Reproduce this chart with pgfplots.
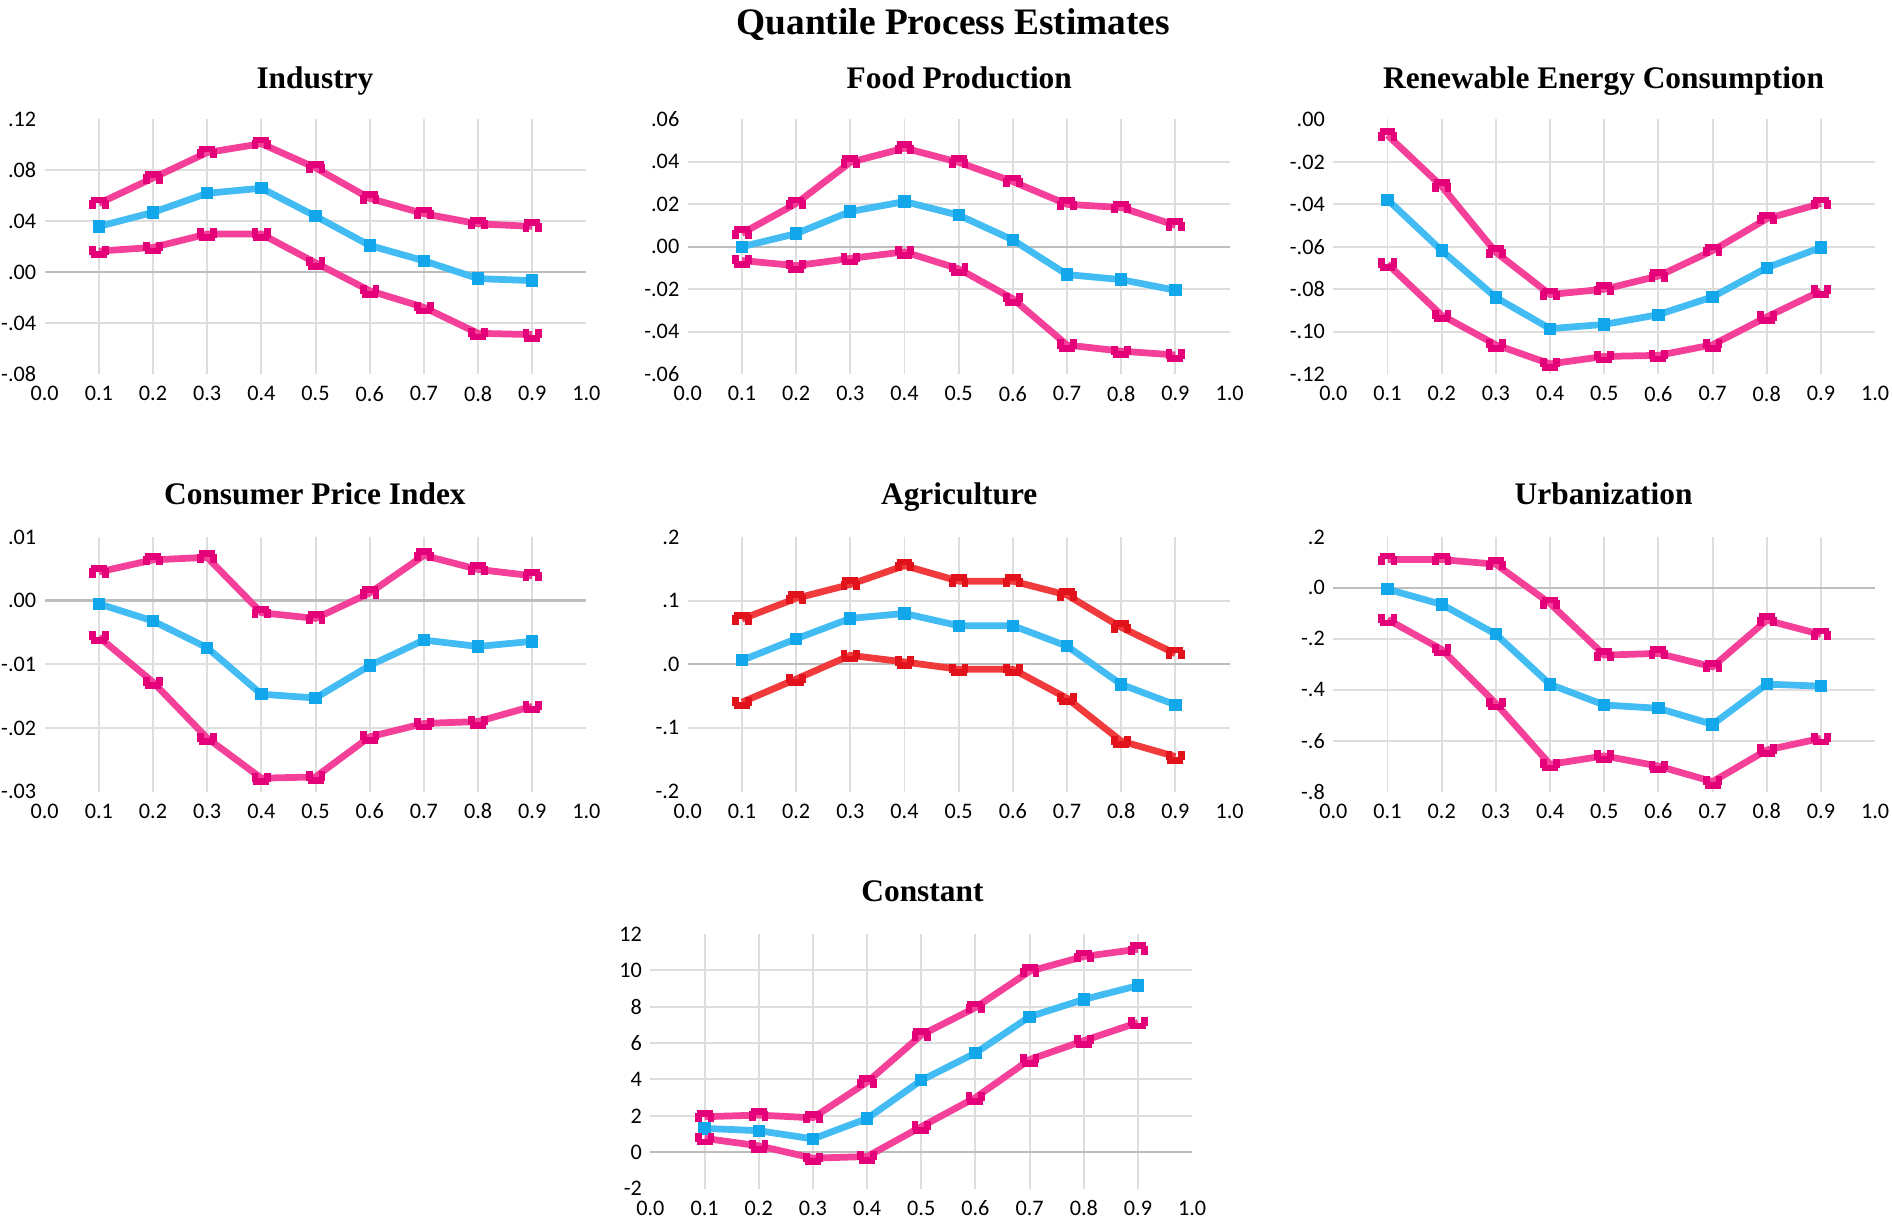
\documentclass[border=0pt]{standalone}
\usepackage{fontspec}
\setmainfont{Liberation Serif}
\newfontfamily\calibri{Carlito}
\usepackage{pgfplots}
\pgfplotsset{compat=1.18}

\definecolor{pinkc}{RGB}{244,64,152}
\definecolor{pinkm}{RGB}{228,0,120}
\definecolor{bluec}{RGB}{66,188,242}
\definecolor{bluem}{RGB}{18,166,234}
\definecolor{redc}{RGB}{240,58,60}
\definecolor{redm}{RGB}{226,18,28}
\definecolor{gridc}{RGB}{222,222,222}
\definecolor{zeroc}{RGB}{190,190,190}

% band markers: cap opening downwards (upper band) / upwards (lower band)
\pgfdeclareplotmark{capup}{%
  \pgfpathmoveto{\pgfqpoint{-0.8\pgfplotmarksize}{-0.7\pgfplotmarksize}}%
  \pgfpathlineto{\pgfqpoint{-0.8\pgfplotmarksize}{0.45\pgfplotmarksize}}%
  \pgfpathmoveto{\pgfqpoint{-\pgfplotmarksize}{0.45\pgfplotmarksize}}%
  \pgfpathlineto{\pgfqpoint{\pgfplotmarksize}{0.45\pgfplotmarksize}}%
  \pgfpathmoveto{\pgfqpoint{0.8\pgfplotmarksize}{0.45\pgfplotmarksize}}%
  \pgfpathlineto{\pgfqpoint{0.8\pgfplotmarksize}{-0.7\pgfplotmarksize}}%
  \pgfusepathqstroke}
\pgfdeclareplotmark{capdn}{%
  \pgfpathmoveto{\pgfqpoint{-0.8\pgfplotmarksize}{0.7\pgfplotmarksize}}%
  \pgfpathlineto{\pgfqpoint{-0.8\pgfplotmarksize}{-0.45\pgfplotmarksize}}%
  \pgfpathmoveto{\pgfqpoint{-\pgfplotmarksize}{-0.45\pgfplotmarksize}}%
  \pgfpathlineto{\pgfqpoint{\pgfplotmarksize}{-0.45\pgfplotmarksize}}%
  \pgfpathmoveto{\pgfqpoint{0.8\pgfplotmarksize}{-0.45\pgfplotmarksize}}%
  \pgfpathlineto{\pgfqpoint{0.8\pgfplotmarksize}{0.7\pgfplotmarksize}}%
  \pgfusepathqstroke}

\pgfplotsset{
  qp/.style={
    scale only axis, width=224.5pt, height=105.5pt, anchor=south west,
    xmin=0, xmax=1, clip=false, scaled y ticks=false,
    xtick={0,0.1,0.2,0.3,0.4,0.5,0.6,0.7,0.8,0.9,1},
    xticklabels={0.0,0.1,0.2,0.3,0.4,0.5,0.6,0.7,0.8,0.9,1.0},
    minor xtick={0.1,0.2,0.3,0.4,0.5,0.6,0.7,0.8,0.9},
    xminorgrids=true, yminorgrids=true,
    minor grid style={gridc, line width=0.8pt},
    axis line style={draw=none},
    major tick length=0pt, minor tick length=0pt,
    tick label style={font=\calibri\fontsize{9.2}{10}\selectfont},
    yticklabel style={anchor=east},
    xticklabel style={anchor=north, yshift=-1.5pt},
  },
  zl/.style={extra y ticks={0}, extra y tick labels={},
    extra y tick style={grid=major, major grid style={zeroc, line width=1pt}}},
  hi/.style={draw=#1, line width=2.8pt, mark=capup, mark size=3.3pt,
    mark options={solid, line width=2pt}},
  lo/.style={draw=#1, line width=2.8pt, mark=capdn, mark size=3.3pt,
    mark options={solid, line width=2pt}},
  mid/.style={draw=bluec, line width=2.8pt, mark=square*, mark size=2.3pt,
    mark options={draw=bluem, fill=bluem, line width=0.5pt}},
}

\begin{document}
\begin{tikzpicture}
\useasboundingbox (0,0) rectangle (784pt,-506pt);

% ---- Industry
\begin{axis}[qp, zl, at={(18.5pt,-155pt)}, ymin=-0.08, ymax=0.12,
  ytick={-0.08,-0.04,0,0.04,0.08,0.12}, yticklabels={-.08,-.04,.00,.04,.08,.12},
  minor ytick={-0.04,0.04,0.08}]
\addplot[hi=pinkc, mark options={pinkm}] coordinates {
  (0.1,0.054) (0.2,0.074) (0.3,0.094) (0.4,0.101) (0.5,0.082)
  (0.6,0.058) (0.7,0.046) (0.8,0.038) (0.9,0.036)};
\addplot[mid] coordinates {
  (0.1,0.036) (0.2,0.047) (0.3,0.062) (0.4,0.066) (0.5,0.044)
  (0.6,0.021) (0.7,0.009) (0.8,-0.005) (0.9,-0.0066)};
\addplot[lo=pinkc, mark options={pinkm}] coordinates {
  (0.1,0.0166) (0.2,0.0195) (0.3,0.030) (0.4,0.030) (0.5,0.0074)
  (0.6,-0.0145) (0.7,-0.0276) (0.8,-0.048) (0.9,-0.049)};
\end{axis}

% ---- Food Production
\begin{axis}[qp, zl, at={(285pt,-155pt)}, ymin=-0.06, ymax=0.06,
  ytick={-0.06,-0.04,-0.02,0,0.02,0.04,0.06}, yticklabels={-.06,-.04,-.02,.00,.02,.04,.06},
  minor ytick={-0.04,-0.02,0.02,0.04}]
\addplot[hi=pinkc, mark options={pinkm}] coordinates {
  (0.1,0.0063) (0.2,0.0204) (0.3,0.0398) (0.4,0.0465) (0.5,0.0398)
  (0.6,0.0307) (0.7,0.020) (0.8,0.0185) (0.9,0.0101)};
\addplot[mid] coordinates {
  (0.1,0.0) (0.2,0.0062) (0.3,0.0166) (0.4,0.0213) (0.5,0.0149)
  (0.6,0.0032) (0.7,-0.0131) (0.8,-0.0155) (0.9,-0.0205)};
\addplot[lo=pinkc, mark options={pinkm}] coordinates {
  (0.1,-0.0065) (0.2,-0.0089) (0.3,-0.0055) (0.4,-0.0024) (0.5,-0.0104)
  (0.6,-0.0245) (0.7,-0.0463) (0.8,-0.0492) (0.9,-0.051)};
\end{axis}

% ---- Renewable Energy Consumption
\begin{axis}[qp, at={(552.5pt,-155pt)}, ymin=-0.12, ymax=0,
  ytick={-0.12,-0.10,-0.08,-0.06,-0.04,-0.02,0}, yticklabels={-.12,-.10,-.08,-.06,-.04,-.02,.00},
  minor ytick={-0.10,-0.08,-0.06,-0.04,-0.02}]
\addplot[hi=pinkc, mark options={pinkm}] coordinates {
  (0.1,-0.0074) (0.2,-0.0315) (0.3,-0.0626) (0.4,-0.0825) (0.5,-0.080)
  (0.6,-0.0738) (0.7,-0.0618) (0.8,-0.0468) (0.9,-0.0396)};
\addplot[mid] coordinates {
  (0.1,-0.0378) (0.2,-0.0618) (0.3,-0.0839) (0.4,-0.0986) (0.5,-0.0966)
  (0.6,-0.092) (0.7,-0.0836) (0.8,-0.0699) (0.9,-0.0603)};
\addplot[lo=pinkc, mark options={pinkm}] coordinates {
  (0.1,-0.0681) (0.2,-0.0923) (0.3,-0.1062) (0.4,-0.1152) (0.5,-0.1117)
  (0.6,-0.1112) (0.7,-0.1062) (0.8,-0.0931) (0.9,-0.0808)};
\end{axis}

% ---- Consumer Price Index
\begin{axis}[qp, zl, at={(18.5pt,-328pt)}, ymin=-0.03, ymax=0.01,
  ytick={-0.03,-0.02,-0.01,0,0.01}, yticklabels={-.03,-.02,-.01,.00,.01},
  minor ytick={-0.02,-0.01}]
\addplot[hi=pinkc, mark options={pinkm}] coordinates {
  (0.1,0.0045) (0.2,0.0064) (0.3,0.0068) (0.4,-0.0019) (0.5,-0.0028)
  (0.6,0.0012) (0.7,0.0071) (0.8,0.0049) (0.9,0.0039)};
\addplot[mid] coordinates {
  (0.1,-0.0005) (0.2,-0.0032) (0.3,-0.0074) (0.4,-0.0147) (0.5,-0.0153)
  (0.6,-0.0102) (0.7,-0.0062) (0.8,-0.0072) (0.9,-0.0064)};
\addplot[lo=pinkc, mark options={pinkm}] coordinates {
  (0.1,-0.0057) (0.2,-0.0128) (0.3,-0.0216) (0.4,-0.0279) (0.5,-0.0277)
  (0.6,-0.0214) (0.7,-0.0193) (0.8,-0.019) (0.9,-0.0166)};
\end{axis}

% ---- Agriculture
\begin{axis}[qp, zl, at={(285pt,-328pt)}, ymin=-0.2, ymax=0.2,
  ytick={-0.2,-0.1,0,0.1,0.2}, yticklabels={-.2,-.1,.0,.1,.2},
  minor ytick={-0.1,0.1}]
\addplot[hi=redc, mark options={redm}] coordinates {
  (0.1,0.071) (0.2,0.1036) (0.3,0.1254) (0.4,0.155) (0.5,0.1306)
  (0.6,0.1306) (0.7,0.1088) (0.8,0.058) (0.9,0.0166)};
\addplot[mid] coordinates {
  (0.1,0.0062) (0.2,0.040) (0.3,0.072) (0.4,0.0798) (0.5,0.0606)
  (0.6,0.0606) (0.7,0.0285) (0.8,-0.0316) (0.9,-0.0637)};
\addplot[lo=redc, mark options={redm}] coordinates {
  (0.1,-0.0596) (0.2,-0.0233) (0.3,0.014) (0.4,0.0036) (0.5,-0.0078)
  (0.6,-0.0078) (0.7,-0.0534) (0.8,-0.1207) (0.9,-0.145)};
\end{axis}

% ---- Urbanization
\begin{axis}[qp, zl, at={(552.5pt,-328pt)}, ymin=-0.8, ymax=0.2,
  ytick={-0.8,-0.6,-0.4,-0.2,0,0.2}, yticklabels={-.8,-.6,-.4,-.2,.0,.2},
  minor ytick={-0.6,-0.4,-0.2}]
\addplot[hi=pinkc, mark options={pinkm}] coordinates {
  (0.1,0.111) (0.2,0.111) (0.3,0.093) (0.4,-0.0614) (0.5,-0.264)
  (0.6,-0.2575) (0.7,-0.31) (0.8,-0.127) (0.9,-0.183)};
\addplot[mid] coordinates {
  (0.1,-0.005) (0.2,-0.065) (0.3,-0.182) (0.4,-0.379) (0.5,-0.46)
  (0.6,-0.473) (0.7,-0.536) (0.8,-0.378) (0.9,-0.386)};
\addplot[lo=pinkc, mark options={pinkm}] coordinates {
  (0.1,-0.124) (0.2,-0.242) (0.3,-0.454) (0.4,-0.693) (0.5,-0.66)
  (0.6,-0.70) (0.7,-0.761) (0.8,-0.637) (0.9,-0.591)};
\end{axis}

% ---- Constant
\begin{axis}[qp, zl, at={(269.5pt,-492.5pt)}, ymin=-2, ymax=12,
  ytick={-2,0,2,4,6,8,10,12}, yticklabels={-2,0,2,4,6,8,10,12},
  minor ytick={2,4,6,8,10}]
\addplot[hi=pinkc, mark options={pinkm}] coordinates {
  (0.1,1.95) (0.2,2.04) (0.3,1.89) (0.4,3.85) (0.5,6.44)
  (0.6,7.95) (0.7,9.95) (0.8,10.76) (0.9,11.16)};
\addplot[mid] coordinates {
  (0.1,1.31) (0.2,1.18) (0.3,0.73) (0.4,1.85) (0.5,3.95)
  (0.6,5.45) (0.7,7.45) (0.8,8.4) (0.9,9.16)};
\addplot[lo=pinkc, mark options={pinkm}] coordinates {
  (0.1,0.76) (0.2,0.35) (0.3,-0.33) (0.4,-0.24) (0.5,1.4)
  (0.6,3.0) (0.7,5.09) (0.8,6.13) (0.9,7.13)};
\end{axis}

\node[anchor=base, font=\bfseries\fontsize{15.5}{18}\selectfont] at (395pt,-14.5pt) {Quantile Process Estimates};
\begin{scope}[every node/.style={anchor=base, font=\bfseries\fontsize{13}{15}\selectfont}]
\node at (130.5pt,-36.5pt) {Industry};
\node at (397.5pt,-36.5pt) {Food Production};
\node at (664.5pt,-36.5pt) {Renewable Energy Consumption};
\node at (130.5pt,-209pt) {Consumer Price Index};
\node at (397.5pt,-209pt) {Agriculture};
\node at (664.5pt,-209pt) {Urbanization};
\node at (382.25pt,-373.5pt) {Constant};
\end{scope}
\end{tikzpicture}
\end{document}
